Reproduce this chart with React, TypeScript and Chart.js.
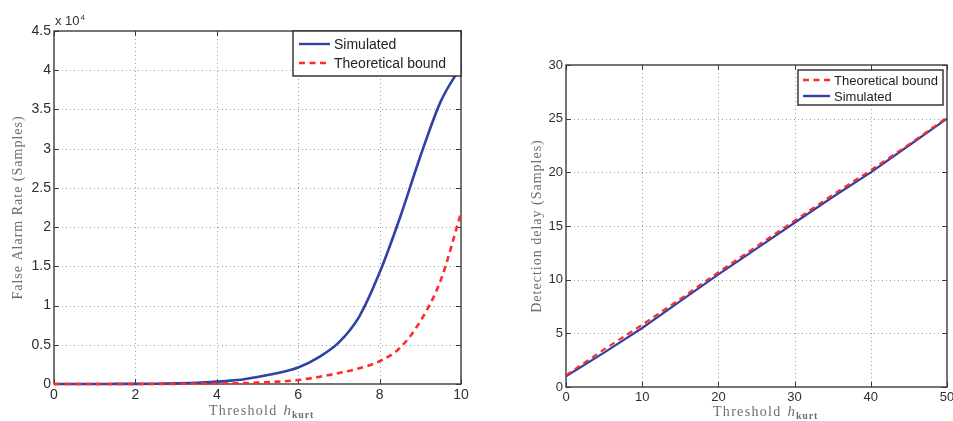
import React, { useEffect, useRef } from "react";
import { Chart, registerables } from "chart.js";

Chart.register(...registerables);

// ---------- data ----------
const farThreshold = [0, 0.5, 1, 1.5, 2, 2.5, 3, 3.5, 4, 4.5, 5, 5.5, 6, 6.5, 7, 7.5, 8, 8.5, 9, 9.5, 10];
// false alarm rate, in units of 10^4 samples
const farSimulated = [0, 0, 0, 0.001, 0.002, 0.004, 0.008, 0.015, 0.03, 0.05, 0.09, 0.14, 0.21, 0.34, 0.53, 0.86, 1.42, 2.12, 2.9, 3.6, 4.05];
const farBound = [0, 0, 0, 0, 0, 0.001, 0.002, 0.004, 0.006, 0.01, 0.017, 0.03, 0.05, 0.09, 0.14, 0.2, 0.29, 0.46, 0.8, 1.32, 2.18];

const delayThreshold = [0, 5, 10, 15, 20, 25, 30, 35, 40, 45, 50];
const delayBound = [1.1, 3.5, 5.8, 8.2, 10.7, 13.1, 15.5, 17.9, 20.2, 22.6, 25.1];
const delaySimulated = [1.0, 3.2, 5.5, 8.0, 10.5, 12.9, 15.3, 17.7, 20.0, 22.5, 25.0];

// axis ranges / tick steps
const farXAxis = { min: 0, max: 10, step: 2 };
const farYAxis = { min: 0, max: 4.5, step: 0.5 };
const delayXAxis = { min: 0, max: 50, step: 10 };
const delayYAxis = { min: 0, max: 30, step: 5 };

const labelSimulated = "Simulated";
const labelBound = "Theoretical bound";
const yTitleFar = "False Alarm Rate (Samples)";
const yTitleDelay = "Detection delay (Samples)";
const exponentText = "x 10";
const exponentPower = "4";

const BLUE = "#3141a6";
const RED = "#ff2b2b";
const SANS = '"Liberation Sans", Arial, sans-serif';
const SERIF = '"Liberation Serif", "Times New Roman", serif';

type LegendItem = { label: string; color: string; dash: number[] };
type Deco = {
  yTitle: string;
  yTitleX: number;
  xTitleX: number;
  xTitleBase: number;
  legend: {
    x0: number; y0: number; w: number; h: number;
    rows: number[]; lx0: number; lx1: number; tx: number;
    font: string; items: LegendItem[];
  };
  exponent?: { x: number; base: number };
};

function setSpacing(ctx: any, v: string) {
  if ("letterSpacing" in ctx) ctx.letterSpacing = v;
}

function makeDeco(d: Deco) {
  return {
    id: "deco",
    beforeDatasetsDraw(chart: any) {
      const { ctx, chartArea: a, scales } = chart;
      const xs = scales.x, ys = scales.y;
      ctx.save();
      // dotted grid
      ctx.strokeStyle = "#a0a0a0";
      ctx.lineWidth = 1;
      ctx.setLineDash([1, 3]);
      xs.ticks.forEach((t: any) => {
        if (t.value <= xs.min || t.value >= xs.max) return;
        const px = Math.round(xs.getPixelForValue(t.value)) + 0.5;
        ctx.beginPath(); ctx.moveTo(px, a.top); ctx.lineTo(px, a.bottom); ctx.stroke();
      });
      ys.ticks.forEach((t: any) => {
        if (t.value <= ys.min || t.value >= ys.max) return;
        const py = Math.round(ys.getPixelForValue(t.value)) + 0.5;
        ctx.beginPath(); ctx.moveTo(a.left, py); ctx.lineTo(a.right, py); ctx.stroke();
      });
      // frame
      ctx.setLineDash([]);
      ctx.strokeStyle = "#3a3a3a";
      ctx.lineWidth = 1.4;
      ctx.strokeRect(a.left, a.top, a.right - a.left, a.bottom - a.top);
      // inward ticks
      ctx.lineWidth = 1;
      const L = 5;
      xs.ticks.forEach((t: any) => {
        const px = Math.round(xs.getPixelForValue(t.value)) + 0.5;
        ctx.beginPath();
        ctx.moveTo(px, a.bottom); ctx.lineTo(px, a.bottom - L);
        ctx.moveTo(px, a.top); ctx.lineTo(px, a.top + L);
        ctx.stroke();
      });
      ys.ticks.forEach((t: any) => {
        const py = Math.round(ys.getPixelForValue(t.value)) + 0.5;
        ctx.beginPath();
        ctx.moveTo(a.left, py); ctx.lineTo(a.left + L, py);
        ctx.moveTo(a.right, py); ctx.lineTo(a.right - L, py);
        ctx.stroke();
      });
      ctx.restore();
    },
    afterDatasetsDraw(chart: any) {
      const ctx = chart.ctx;
      const g = d.legend;
      ctx.save();
      ctx.fillStyle = "#ffffff";
      ctx.fillRect(g.x0, g.y0, g.w, g.h);
      ctx.strokeStyle = "#2a2a2a";
      ctx.lineWidth = 1.4;
      ctx.strokeRect(g.x0, g.y0, g.w, g.h);
      g.items.forEach((it, i) => {
        const y = g.rows[i];
        ctx.strokeStyle = it.color;
        ctx.lineWidth = 2.4;
        ctx.setLineDash(it.dash);
        ctx.beginPath(); ctx.moveTo(g.lx0, y); ctx.lineTo(g.lx1, y); ctx.stroke();
        ctx.setLineDash([]);
        ctx.fillStyle = "#222";
        ctx.font = g.font;
        ctx.textBaseline = "middle";
        ctx.textAlign = "left";
        ctx.fillText(it.label, g.tx, y + 1);
      });
      ctx.restore();
    },
    afterDraw(chart: any) {
      const { ctx, chartArea: a } = chart;
      ctx.save();
      // y title
      ctx.fillStyle = "#6e6e6e";
      ctx.font = `14px ${SERIF}`;
      setSpacing(ctx, "1px");
      ctx.translate(d.yTitleX, (a.top + a.bottom) / 2);
      ctx.rotate(-Math.PI / 2);
      ctx.textAlign = "center";
      ctx.textBaseline = "middle";
      ctx.fillText(d.yTitle, 0, 0);
      ctx.restore();

      // x title: Threshold h_kurt
      ctx.save();
      ctx.fillStyle = "#6e6e6e";
      ctx.textAlign = "left";
      ctx.textBaseline = "alphabetic";
      let x = d.xTitleX;
      ctx.font = `14px ${SERIF}`;
      setSpacing(ctx, "1.3px");
      ctx.fillText("Threshold", x, d.xTitleBase);
      x += ctx.measureText("Threshold").width + 6;
      setSpacing(ctx, "0px");
      ctx.font = `italic 15px ${SERIF}`;
      ctx.fillText("h", x, d.xTitleBase);
      x += ctx.measureText("h").width + 1;
      ctx.font = `bold 10px ${SERIF}`;
      setSpacing(ctx, "0.8px");
      ctx.fillText("kurt", x, d.xTitleBase + 3);
      ctx.restore();

      if (d.exponent) {
        ctx.save();
        ctx.fillStyle = "#333";
        ctx.textAlign = "left";
        ctx.textBaseline = "alphabetic";
        ctx.font = `13px ${SANS}`;
        ctx.fillText(exponentText, d.exponent.x, d.exponent.base);
        const w = ctx.measureText(exponentText).width;
        ctx.font = `8px ${SANS}`;
        ctx.fillText(exponentPower, d.exponent.x + w + 1, d.exponent.base - 5);
        ctx.restore();
      }
    },
  };
}

function pts(xs: number[], ys: number[]) {
  return xs.map((x, i) => ({ x, y: ys[i] }));
}

function makeChart(
  canvas: HTMLCanvasElement,
  opts: {
    datasets: any[];
    xAxis: { min: number; max: number; step: number };
    yAxis: { min: number; max: number; step: number };
    yWidth: number;
    xHeight: number;
    padding: { top: number; right: number; left: number; bottom: number };
    tickFont: number;
    deco: Deco;
  }
) {
  const fmt = (v: any) => String(Math.round(Number(v) * 100) / 100);
  return new Chart(canvas, {
    type: "line",
    data: { datasets: opts.datasets },
    options: {
      animation: false,
      responsive: false,
      maintainAspectRatio: false,
      layout: { padding: opts.padding },
      plugins: { legend: { display: false }, tooltip: { enabled: false } },
      elements: { point: { radius: 0 } },
      scales: {
        x: {
          type: "linear",
          min: opts.xAxis.min,
          max: opts.xAxis.max,
          grid: { display: false, drawTicks: false },
          border: { display: false },
          ticks: {
            stepSize: opts.xAxis.step,
            autoSkip: false,
            maxRotation: 0,
            padding: 3,
            color: "#2e2e2e",
            font: { family: SANS, size: opts.tickFont },
            callback: fmt,
          },
          afterFit: (s: any) => { s.height = opts.xHeight; },
        },
        y: {
          type: "linear",
          min: opts.yAxis.min,
          max: opts.yAxis.max,
          grid: { display: false, drawTicks: false },
          border: { display: false },
          ticks: {
            stepSize: opts.yAxis.step,
            autoSkip: false,
            padding: 3,
            color: "#2e2e2e",
            font: { family: SANS, size: opts.tickFont },
            callback: fmt,
          },
          afterFit: (s: any) => { s.width = opts.yWidth; },
        },
      },
    } as any,
    plugins: [makeDeco(opts.deco) as any],
  });
}

export default function App() {
  const leftRef = useRef<HTMLCanvasElement>(null);
  const rightRef = useRef<HTMLCanvasElement>(null);

  useEffect(() => {
    const left = makeChart(leftRef.current!, {
      datasets: [
        {
          label: labelSimulated,
          data: pts(farThreshold, farSimulated),
          borderColor: BLUE,
          borderWidth: 2.6,
          cubicInterpolationMode: "monotone",
          clip: 3,
          order: 1,
        },
        {
          label: labelBound,
          data: pts(farThreshold, farBound),
          borderColor: RED,
          borderWidth: 2.6,
          borderDash: [6, 4.5],
          cubicInterpolationMode: "monotone",
          clip: 3,
          order: 0,
        },
      ],
      xAxis: farXAxis,
      yAxis: farYAxis,
      yWidth: 54,
      xHeight: 37,
      padding: { top: 31, right: 19, left: 0, bottom: 0 },
      tickFont: 14,
      deco: {
        yTitle: yTitleFar,
        yTitleX: 18,
        xTitleX: 209,
        xTitleBase: 415,
        legend: {
          x0: 293, y0: 31, w: 168, h: 45,
          rows: [44, 63], lx0: 299, lx1: 330, tx: 334,
          font: `14px ${SANS}`,
          items: [
            { label: labelSimulated, color: BLUE, dash: [] },
            { label: labelBound, color: RED, dash: [6, 4.5] },
          ],
        },
        exponent: { x: 55, base: 25 },
      },
    });

    const right = makeChart(rightRef.current!, {
      datasets: [
        {
          label: labelBound,
          data: pts(delayThreshold, delayBound),
          borderColor: RED,
          borderWidth: 2.2,
          borderDash: [6, 4.5],
          clip: 3,
          order: 0,
        },
        {
          label: labelSimulated,
          data: pts(delayThreshold, delaySimulated),
          borderColor: BLUE,
          borderWidth: 2.2,
          clip: 3,
          order: 1,
        },
      ],
      xAxis: delayXAxis,
      yAxis: delayYAxis,
      yWidth: 86,
      xHeight: 34,
      padding: { top: 65, right: 13, left: 0, bottom: 0 },
      tickFont: 13,
      deco: {
        yTitle: yTitleDelay,
        yTitleX: 57,
        xTitleX: 233,
        xTitleBase: 416,
        legend: {
          x0: 318, y0: 70, w: 145, h: 35,
          rows: [80, 96], lx0: 323, lx1: 350, tx: 354,
          font: `13px ${SANS}`,
          items: [
            { label: labelBound, color: RED, dash: [6, 4.5] },
            { label: labelSimulated, color: BLUE, dash: [] },
          ],
        },
      },
    });

    return () => {
      left.destroy();
      right.destroy();
    };
  }, []);

  return (
    <div
      style={{
        position: "absolute",
        left: 0,
        top: 0,
        width: 953,
        height: 421,
        overflow: "hidden",
        background: "#ffffff",
      }}
    >
      <canvas ref={leftRef} width={480} height={421} style={{ position: "absolute", left: 0, top: 0 }} />
      <canvas ref={rightRef} width={480} height={421} style={{ position: "absolute", left: 480, top: 0 }} />
    </div>
  );
}
